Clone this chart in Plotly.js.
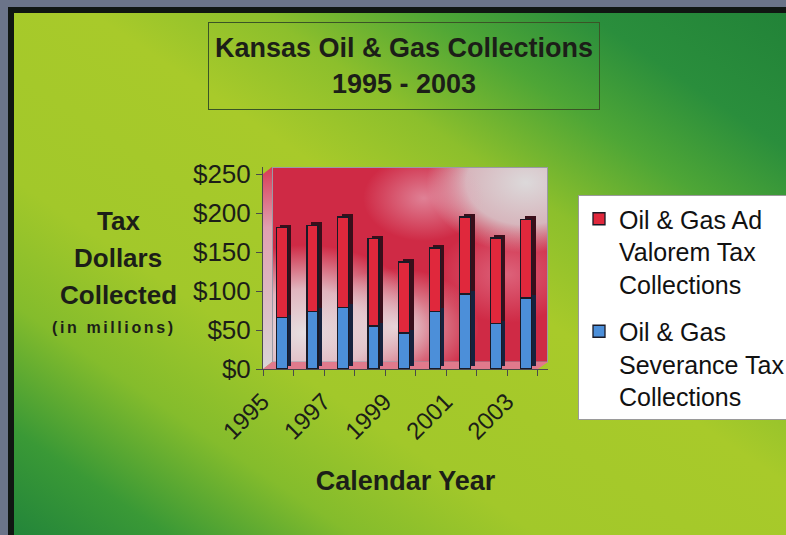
<!DOCTYPE html>
<html>
<head>
<meta charset="utf-8">
<script src="https://cdn.plot.ly/plotly-3.0.1.min.js"></script>
<style>
  html, body { margin: 0; padding: 0; width: 786px; height: 535px; overflow: hidden; }
  #frame { position: absolute; left: 0; top: 0; width: 786px; height: 535px; background: #6b7489; }
  #inner { position: absolute; left: 8px; top: 7px; width: 778px; height: 528px; box-sizing: border-box;
           border-left: 6px solid #101612; border-top: 6px solid #101612;
           background: linear-gradient(to top right, #23853a 0%, #3a9936 10%, #84bc2c 22%, #a2c82a 34%, #a8ca2a 55%, #8cbf2c 66%, #4ea636 77%, #2a8e3c 87%, #228338 100%); }
  #chart { position: absolute; left: 0; top: 0; width: 786px; height: 535px; }
</style>
</head>
<body>
<div id="frame"><div id="inner"></div></div>
<div id="chart"></div>
<script>
// ---- data ----
const years = ['1995','1996','1997','1998','1999','2000','2001','2002','2003'];
const tickLabels = ['1995','','1997','','1999','','2001','','2003'];
const severance = [66, 74, 79, 55, 46, 74, 96, 58, 91];      // Oil & Gas Severance Tax ($M)
const adValorem = [115, 110, 116, 112, 91, 81, 99, 110, 101]; // Oil & Gas Ad Valorem Tax ($M)
const seriesNames = ['Oil & Gas Ad<br>Valorem Tax<br>Collections', 'Oil & Gas<br>Severance Tax<br>Collections'];

// ---- layout geometry (pixels) ----
const W = 786, H = 535;
const pl = 263, pr = 548, pt = 167, pb = 369;      // front plot box
const wallL = 272, wallB = 362;                     // back wall
const fx = v => v / W, fy = v => 1 - v / H;

const wallSvg = `<svg xmlns="http://www.w3.org/2000/svg" width="285" height="202" viewBox="0 0 285 202">
<defs>
<radialGradient id="w1" cx="0.92" cy="0.08" r="0.36"><stop offset="0" stop-color="#dcd9da"/><stop offset="0.6" stop-color="#d8cfd2" stop-opacity="0.85"/><stop offset="1" stop-color="#d8cfd2" stop-opacity="0"/></radialGradient>
<radialGradient id="w2" cx="0.12" cy="0.85" r="0.45"><stop offset="0" stop-color="#e6e0e2"/><stop offset="0.5" stop-color="#e4cdd3" stop-opacity="0.85"/><stop offset="1" stop-color="#e4cdd3" stop-opacity="0"/></radialGradient>
<radialGradient id="w3" cx="0.45" cy="0.82" r="0.3"><stop offset="0" stop-color="#e8dfe2" stop-opacity="0.9"/><stop offset="1" stop-color="#e8dfe2" stop-opacity="0"/></radialGradient>
<radialGradient id="w4" cx="0.55" cy="0.16" r="0.22"><stop offset="0" stop-color="#e6a6b8" stop-opacity="0.7"/><stop offset="1" stop-color="#e6a6b8" stop-opacity="0"/></radialGradient>
<radialGradient id="w5" cx="0.85" cy="0.55" r="0.25"><stop offset="0" stop-color="#e890a6" stop-opacity="0.55"/><stop offset="1" stop-color="#e890a6" stop-opacity="0"/></radialGradient>
<linearGradient id="side" x1="0" y1="0" x2="0" y2="1"><stop offset="0" stop-color="#d83a55"/><stop offset="0.3" stop-color="#e0a0b0"/><stop offset="1" stop-color="#d8d4d6"/></linearGradient>
</defs>
<rect x="9" y="0" width="276" height="195" fill="#cf2a45"/>
<rect x="9" y="0" width="276" height="195" fill="url(#w1)"/>
<rect x="9" y="0" width="276" height="195" fill="url(#w2)"/>
<rect x="9" y="0" width="276" height="195" fill="url(#w3)"/>
<rect x="9" y="0" width="276" height="195" fill="url(#w4)"/>
<rect x="9" y="0" width="276" height="195" fill="url(#w5)"/>
<rect x="9.5" y="0.5" width="275" height="194.5" fill="none" stroke="#9a9aa6" stroke-width="1"/>
<polygon points="0,7 9,0 9,195 0,202" fill="url(#side)"/>
<polygon points="0,202 9,195 285,195 275,202" fill="#e07a8c"/>
</svg>`;

const cat0 = -0.5, cat1 = -0.5 + (pr - pl) / 30.55;
const dxCat = 4 / 30.55;   // depth shift right
const dyVal = 3 / 0.78;    // depth shift up
const barW = 0.36, barOff = -0.06;

const darkText = '#1c1e18';
const font = 'Liberation Sans, Arial, sans-serif';

const traces = [
  // 3D depth (side/top faces) of each column, drawn on shifted axes
  { type: 'bar', x: years, y: severance, xaxis: 'x2', yaxis: 'y2', width: barW, offset: barOff,
    marker: { color: '#16223e', line: { width: 0 } }, showlegend: false, hoverinfo: 'skip' },
  { type: 'bar', x: years, y: adValorem, xaxis: 'x2', yaxis: 'y2', width: barW, offset: barOff,
    marker: { color: '#3a0e1a', line: { width: 0 } }, showlegend: false, hoverinfo: 'skip' },
  // front faces
  { type: 'bar', name: seriesNames[1], x: years, y: severance, xaxis: 'x3', yaxis: 'y3',
    width: barW, offset: barOff, legendgroup: 'sev', legendrank: 2,
    marker: { color: '#4c8fd9', line: { color: '#1a1a26', width: 1.3 } } },
  { type: 'bar', name: seriesNames[0], x: years, y: adValorem, xaxis: 'x3', yaxis: 'y3',
    width: barW, offset: barOff, legendgroup: 'adv', legendrank: 1,
    marker: { color: '#e0283c', line: { color: '#1a1a26', width: 1.3 } } }
];

const hidden = { showgrid: false, zeroline: false, showline: false, showticklabels: false, ticks: '' };

const layout = {
  width: W, height: H,
  margin: { l: 0, r: 0, t: 0, b: 0, autoexpand: false },
  paper_bgcolor: 'rgba(0,0,0,0)', plot_bgcolor: 'rgba(0,0,0,0)',
  font: { family: font, color: darkText },
  barmode: 'stack',
  showlegend: true,
  // back-wall gridlines
  xaxis: Object.assign({ domain: [fx(wallL), fx(pr)], range: [0, 1], anchor: 'y' }, hidden),
  yaxis: { domain: [fy(wallB), fy(pt)], range: [0, 250], dtick: 50, anchor: 'x',
           showgrid: true, gridcolor: '#3e3e46', gridwidth: 1, zeroline: false,
           showline: false, showticklabels: false, ticks: '' },
  // depth axes (shifted)
  xaxis2: Object.assign({ domain: [fx(pl), fx(pr)], type: 'category', range: [cat0 - dxCat, cat1 - dxCat], anchor: 'y2' }, hidden),
  yaxis2: Object.assign({ domain: [fy(pb), fy(pt)], range: [-dyVal, (pb - pt) / 0.78 - dyVal], anchor: 'x2' }, hidden),
  // front axes
  xaxis3: {
    type: 'category', overlaying: 'x2', anchor: 'y3', range: [cat0, cat1],
    tickmode: 'array', tickvals: years, ticktext: tickLabels, tickson: 'boundaries',
    ticks: 'outside', ticklen: 6, tickcolor: '#4a4a4a', showline: true, linecolor: '#4a4a4a', linewidth: 1,
    showgrid: false, zeroline: false,
    tickangle: -45, tickfont: { size: 24, color: darkText, family: font },
    ticklabelshift: -16, ticklabelstandoff: 8,
    title: { text: '<b>Calendar Year</b>', font: { size: 27, color: darkText, family: font }, standoff: 27 }
  },
  yaxis3: {
    overlaying: 'y2', anchor: 'x3', side: 'left', range: [0, (pb - pt) / 0.78],
    tickmode: 'linear', tick0: 0, dtick: 50, tickprefix: '$',
    ticks: 'outside', ticklen: 6, tickcolor: '#4a4a4a', showline: true, linecolor: '#4a4a4a', linewidth: 1,
    showgrid: false, zeroline: false,
    tickfont: { size: 26, color: darkText, family: font }
  },
  legend: {
    x: fx(578), y: fy(195), xanchor: 'left', yanchor: 'top',
    bgcolor: '#ffffff', bordercolor: '#9a9a9a', borderwidth: 1,
    font: { size: 25, color: '#111111', family: font },
    valign: 'top', tracegroupgap: 12, traceorder: 'grouped'
  },
  images: [{
    source: 'data:image/svg+xml;base64,' + btoa(wallSvg),
    xref: 'paper', yref: 'paper', x: fx(pl), y: fy(pt),
    sizex: (pr - pl) / W, sizey: (pb - pt) / H, xanchor: 'left', yanchor: 'top',
    sizing: 'stretch', layer: 'below'
  }],
  annotations: [
    { text: '<b>Kansas Oil & Gas Collections</b><br><b>1995 - 2003</b>', xref: 'paper', yref: 'paper',
      x: fx(403.5), y: fy(65.5), xanchor: 'center', yanchor: 'middle', showarrow: false,
      width: 390, height: 86, borderpad: 0, bordercolor: '#3a5426', borderwidth: 1,
      font: { size: 27, color: darkText, family: font } },
    { text: '<b>Tax</b>', xref: 'paper', yref: 'paper', x: fx(118), y: fy(221), xanchor: 'center', yanchor: 'middle',
      showarrow: false, font: { size: 26, color: darkText, family: font } },
    { text: '<b>Dollars</b>', xref: 'paper', yref: 'paper', x: fx(118), y: fy(258), xanchor: 'center', yanchor: 'middle',
      showarrow: false, font: { size: 26, color: darkText, family: font } },
    { text: '<b>Collected</b>', xref: 'paper', yref: 'paper', x: fx(118), y: fy(295), xanchor: 'center', yanchor: 'middle',
      showarrow: false, font: { size: 26, color: darkText, family: font } },
    { text: '<b><span style="letter-spacing:2.6px">(in millions)</span></b>', xref: 'paper', yref: 'paper',
      x: fx(114), y: fy(327), xanchor: 'center', yanchor: 'middle',
      showarrow: false, font: { size: 16, color: darkText, family: font } }
  ]
};

Plotly.newPlot('chart', traces, layout, { staticPlot: true, displayModeBar: false });
</script>
</body>
</html>
